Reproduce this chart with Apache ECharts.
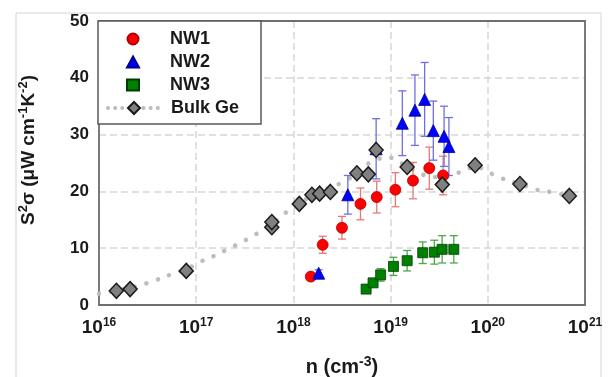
<!DOCTYPE html>
<html><head><meta charset="utf-8">
<script src="https://cdn.jsdelivr.net/npm/echarts@6/dist/echarts.min.js"></script>
<style>html,body{margin:0;padding:0;background:#fff}#c{width:608px;height:377px}</style>
</head><body><div id="c"></div>
<script>
// ---- data ----
const xTickExponents = [16, 17, 18, 19, 20, 21];
const yTicks = [0, 10, 20, 30, 40, 50];

const nw1N = [1.51e18, 2.0e18, 3.16e18, 4.9e18, 7.2e18, 1.12e19, 1.7e19, 2.5e19, 3.47e19];
const nw1V = [5.0, 10.6, 13.6, 17.8, 19.0, 20.3, 21.9, 24.1, 22.8];
const nw1E = [0.6, 1.5, 2.0, 2.8, 2.8, 3.0, 3.2, 3.7, 3.4];

const nw2N = [1.82e18, 3.63e18, 7.1e18, 1.32e19, 1.78e19, 2.24e19, 2.75e19, 3.55e19, 3.98e19];
const nw2V = [5.6, 19.4, 27.5, 32.0, 34.3, 36.2, 30.7, 29.7, 27.9];
const nw2E = [0.6, 3.4, 5.3, 5.7, 6.2, 6.5, 5.2, 5.3, 5.1];

const nw3N = [5.6e18, 6.6e18, 7.9e18, 1.07e19, 1.48e19, 2.14e19, 2.82e19, 3.39e19, 4.47e19];
const nw3V = [2.8, 3.9, 5.3, 6.8, 7.8, 9.2, 9.3, 9.8, 9.8];
const nw3E = [0.3, 0.5, 1.1, 1.6, 1.8, 1.9, 2.1, 2.4, 2.4];

const bulkN = [1.51e16, 2.09e16, 7.9e16, 6.0e17, 6.0e17, 1.15e18, 1.55e18, 1.86e18, 2.4e18,
               4.5e18, 5.9e18, 7.1e18, 1.48e19, 3.4e19, 7.4e19, 2.14e20, 6.9e20];
const bulkV = [2.5, 2.8, 6.0, 13.7, 14.6, 17.8, 19.4, 19.6, 19.9,
               23.2, 23.0, 27.3, 24.3, 21.2, 24.6, 21.3, 19.2];

const curveN = [1e16, 1.58e16, 2.63e16, 3.9e16, 5.75e16, 7.9e16, 1.1e17, 1.51e17, 2.04e17, 2.82e17,
                3.7e17, 4.9e17, 6.3e17, 7.9e17, 1e18, 1.26e18, 1.58e18, 2.24e18, 3.55e18, 5.0e18,
                6.6e18, 9.5e18, 1.15e19, 1.51e19, 2.0e19, 2.57e19, 3.55e19, 4.8e19, 6.0e19, 7.4e19,
                9.8e19, 1.35e20, 2.14e20, 3.16e20, 4.4e20, 6.9e20];
const curveV = [2.0, 2.6, 3.5, 4.4, 5.5, 6.3, 7.6, 8.6, 9.7, 10.9,
                12.0, 13.3, 14.6, 16.0, 17.0, 18.3, 19.3, 20.5, 22.0, 24.0,
                25.3, 26.0, 25.4, 24.3, 23.2, 22.6, 22.5, 23.2, 23.8, 24.4,
                23.5, 22.4, 21.3, 20.3, 19.9, 19.2];

const FONT = "'Liberation Sans', Arial, sans-serif";
const INK = '#1a1a1a';

function pts(xs, ys) { return xs.map((x, i) => [x, ys[i]]); }

function errSeries(name, xs, ys, es, color) {
  return {
    type: 'custom', name: name, silent: true, z: 2,
    encode: { x: 0, y: [1, 2] },
    data: xs.map((x, i) => [x, ys[i] - es[i], ys[i] + es[i]]),
    renderItem: function (params, api) {
      const x = api.value(0), lo = api.value(1), hi = api.value(2);
      const p1 = api.coord([x, hi]), p2 = api.coord([x, lo]);
      const w = 4, st = { stroke: color, lineWidth: 1.3 };
      return {
        type: 'group', children: [
          { type: 'line', shape: { x1: p1[0], y1: p1[1], x2: p2[0], y2: p2[1] }, style: st },
          { type: 'line', shape: { x1: p1[0] - w, y1: p1[1], x2: p1[0] + w, y2: p1[1] }, style: st },
          { type: 'line', shape: { x1: p2[0] - w, y1: p2[1], x2: p2[0] + w, y2: p2[1] }, style: st }
        ]
      };
    }
  };
}

const chart = echarts.init(document.getElementById('c'), null, { renderer: 'canvas' });

const splitStyle = { show: true, lineStyle: { color: '#d6d6d6', width: 1.5, type: [7, 4] } };
const frameLine = { show: true, onZero: false, lineStyle: { color: '#6e6e6e', width: 1.8 } };

chart.setOption({
  animation: false,
  backgroundColor: '#fff',
  textStyle: { fontFamily: FONT },
  graphic: [
    { type: 'rect', z: 0, silent: true, shape: { x: 16, y: 13, width: 585, height: 420 },
      style: { fill: 'none', stroke: '#d4d4d4', lineWidth: 1 } },
    { type: 'rect', z: 5, silent: true, shape: { x: 98, y: 21, width: 163, height: 103 },
      style: { fill: '#fff', stroke: '#5a5a5a', lineWidth: 1.5 } }
  ],
  grid: { left: 99, right: 23, top: 21, bottom: 72, outerBoundsMode: 'none', containLabel: false },
  legend: [
    { orient: 'vertical', left: 126, top: 30, padding: 0, itemGap: 5, itemWidth: 12, itemHeight: 11,
      z: 10, data: ['NW1', 'NW2', 'NW3'], selectedMode: false,
      textStyle: { fontFamily: FONT, fontWeight: 'bold', fontSize: 18, color: INK, padding: [0, 0, 0, 26] } },
    { orient: 'vertical', left: 106, top: 99, padding: 0, itemWidth: 52, itemHeight: 15,
      z: 10, data: ['Bulk Ge'], selectedMode: false,
      textStyle: { fontFamily: FONT, fontWeight: 'bold', fontSize: 18, color: INK, padding: [0, 0, 0, 6] },
      lineStyle: { color: '#bdbdbd', width: 4, type: [0.1, 7], cap: 'round' } }
  ],
  xAxis: [{
    type: 'log', logBase: 10, min: Math.pow(10, xTickExponents[0]), max: Math.pow(10, xTickExponents[xTickExponents.length - 1]),
    interval: 1,
    name: '{a|n (cm}{s|-3}{a|)}', nameLocation: 'middle', nameGap: 50,
    nameTextStyle: { rich: {
      a: { fontFamily: FONT, fontWeight: 'bold', fontSize: 20, color: INK, lineHeight: 24 },
      s: { fontFamily: FONT, fontWeight: 'bold', fontSize: 14, color: INK, verticalAlign: 'top', lineHeight: 24, padding: [0, 0, 10, 0] } } },
    axisLine: frameLine,
    axisTick: { show: false },
    splitLine: splitStyle,
    axisLabel: {
      margin: 12,
      formatter: function (v) { return '{b|10}{s|' + Math.round(Math.log10(v)) + '}'; },
      rich: {
        b: { fontFamily: FONT, fontWeight: 'bold', fontSize: 19, color: INK, lineHeight: 22 },
        s: { fontFamily: FONT, fontWeight: 'bold', fontSize: 12, color: INK, verticalAlign: 'top', lineHeight: 22, padding: [0, 0, 9, 0] }
      }
    }
  }, {
    type: 'log', logBase: 10, position: 'top', min: Math.pow(10, xTickExponents[0]), max: Math.pow(10, xTickExponents[xTickExponents.length - 1]),
    axisLine: frameLine, axisTick: { show: false }, axisLabel: { show: false }, splitLine: { show: false }
  }],
  yAxis: [{
    type: 'value', min: yTicks[0], max: yTicks[yTicks.length - 1], interval: 10,
    name: '{a|S}{s|2}{a|σ (μW cm}{s|-1}{a|K}{s|-2}{a|)}', nameLocation: 'middle', nameGap: 58, nameRotate: 90,
    nameTextStyle: { padding: [0, 0, 0, 26], rich: {
      a: { fontFamily: FONT, fontWeight: 'bold', fontSize: 19, color: INK, lineHeight: 24 },
      s: { fontFamily: FONT, fontWeight: 'bold', fontSize: 13, color: INK, verticalAlign: 'top', lineHeight: 24, padding: [0, 0, 10, 0] } } },
    axisLine: frameLine,
    axisTick: { show: false },
    splitLine: splitStyle,
    axisLabel: { margin: 10, fontFamily: FONT, fontWeight: 'bold', fontSize: 17, color: INK }
  }, {
    type: 'value', position: 'right', min: yTicks[0], max: yTicks[yTicks.length - 1], interval: 10,
    axisLine: frameLine, axisTick: { show: false }, axisLabel: { show: false }, splitLine: { show: false }
  }],
  series: [
    { name: 'Bulk Ge', type: 'line', data: pts(curveN, curveV), smooth: true, showSymbol: false, symbol: 'diamond',
      z: 1, silent: true,
      lineStyle: { color: '#bdbdbd', width: 4.5, type: [0.1, 12], cap: 'round' },
      itemStyle: { color: '#808080', borderColor: INK, borderWidth: 1.5 } },
    errSeries('NW1 err', nw1N, nw1V, nw1E, '#e87878'),
    errSeries('NW2 err', nw2N, nw2V, nw2E, '#6f6fe0'),
    errSeries('NW3 err', nw3N, nw3V, nw3E, '#4aa84a'),
    { name: 'NW1', type: 'scatter', data: pts(nw1N, nw1V), symbol: 'circle', symbolSize: 11, z: 3,
      itemStyle: { color: '#ff0000', borderColor: '#b00000', borderWidth: 0.8, opacity: 1 } },
    { name: 'NW2', type: 'scatter', data: pts(nw2N, nw2V), symbol: 'triangle', symbolSize: 12, z: 3,
      itemStyle: { color: '#0000ff', borderColor: '#000090', borderWidth: 0.8, opacity: 1 } },
    { name: 'NW3', type: 'scatter', data: pts(nw3N, nw3V), symbol: 'rect', symbolSize: 10, z: 3,
      itemStyle: { color: '#008000', borderColor: '#003c00', borderWidth: 0.8, opacity: 1 } },
    { name: 'Bulk Ge points', type: 'scatter', data: pts(bulkN, bulkV), symbol: 'diamond', symbolSize: [14, 15], z: 4,
      itemStyle: { color: '#808080', borderColor: INK, borderWidth: 1.5, opacity: 1 } }
  ]
});
</script>
</body></html>
